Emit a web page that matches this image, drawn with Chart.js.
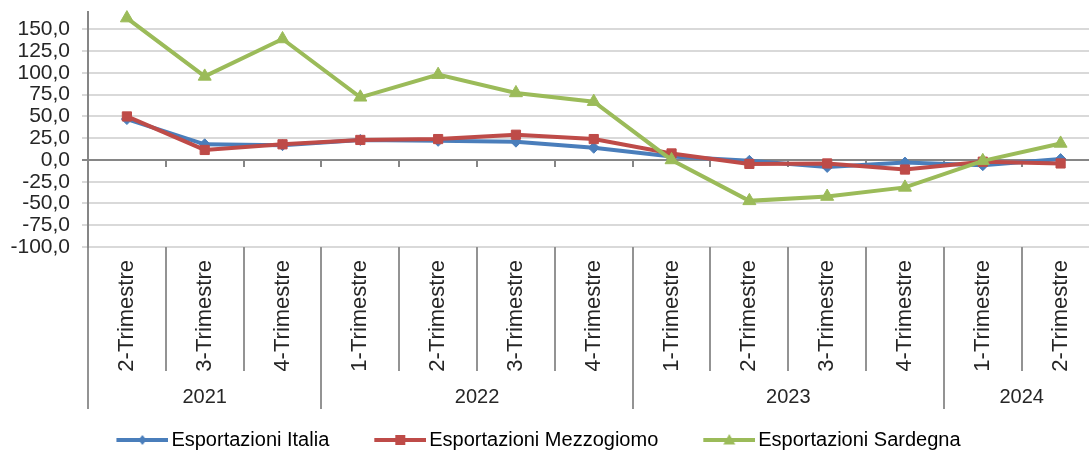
<!DOCTYPE html>
<html>
<head>
<meta charset="utf-8">
<script src="https://cdn.jsdelivr.net/npm/chart.js@4.4.1/dist/chart.umd.min.js"></script>
<style>
html, body { margin: 0; padding: 0; overflow: hidden; background: #ffffff; width: 1089px; height: 453px; }
#wrap { position: absolute; left: 0; top: 0; width: 1108px; height: 460px; }
</style>
</head>
<body>
<div id="wrap"><canvas id="c" width="1108" height="460"></canvas></div>
<script>
// ---- data ----
const quarters = ['2-Trimestre', '3-Trimestre', '4-Trimestre',
  '1-Trimestre', '2-Trimestre', '3-Trimestre', '4-Trimestre',
  '1-Trimestre', '2-Trimestre', '3-Trimestre', '4-Trimestre',
  '1-Trimestre', '2-Trimestre'];
const years = ['2021', '2022', '2023', '2024'];
const yearSpans = [3, 4, 4, 2];
const italia      = [47, 18, 17, 23, 22, 21, 14, 4, -1, -8, -3, -6, 1];
const mezzogiorno = [50, 11.5, 18, 23, 24, 29, 24, 7.5, -4.5, -4, -11, -2, -4];
const sardegna    = [163, 96, 139, 72, 98, 77, 67, 0, -47, -42, -31.5, -1, 19];
const seriesNames = ['Esportazioni Italia', 'Esportazioni Mezzogiomo', 'Esportazioni Sardegna'];
const yMin = -100, yMax = 170, yStep = 25;

// ---- styling ----
const FONT = "'Liberation Sans', Arial, sans-serif";
const colors = ['#4a7ebb', '#be4b48', '#9bbb59'];
const markers = ['rectRot', 'rect', 'triangle'];
const markerRadius = [5.5, 6.5, 7.5];
const axisGray = '#868686';
const sepGray = '#939393';
const gridGray = '#d9d9d9';

// year group boundaries / centres (in category index units)
const yearBounds = [-0.5];
yearSpans.forEach(s => yearBounds.push(yearBounds[yearBounds.length - 1] + s));
const yearCenters = yearSpans.map((s, i) => yearBounds[i] + s / 2);

// legend icons: line with marker
function legendIcon(i) {
  const c = document.createElement('canvas');
  c.width = 94; c.height = 18;
  const g = c.getContext('2d');
  g.strokeStyle = colors[i]; g.fillStyle = colors[i];
  g.lineWidth = 4;
  g.beginPath(); g.moveTo(42, 9); g.lineTo(94, 9); g.stroke();
  const cx = 68, cy = 9;
  g.beginPath();
  if (i === 0) { g.moveTo(cx, cy - 5); g.lineTo(cx + 4, cy); g.lineTo(cx, cy + 5); g.lineTo(cx - 4, cy); }
  else if (i === 1) { g.rect(cx - 5, cy - 5, 10, 10); }
  else { g.moveTo(cx, cy - 6); g.lineTo(cx + 6, cy + 4.5); g.lineTo(cx - 6, cy + 4.5); }
  g.closePath(); g.fill();
  return c;
}
const legendIcons = [0, 1, 2].map(legendIcon);

const seriesData = [italia, mezzogiorno, sardegna];
const datasets = seriesData.map((d, i) => ({
  label: seriesNames[i],
  data: d,
  borderColor: colors[i],
  backgroundColor: colors[i],
  borderWidth: 4,
  pointStyle: markers[i],
  pointRadius: markerRadius[i],
  pointBorderWidth: 1,
  pointBackgroundColor: colors[i],
  pointBorderColor: colors[i],
  tension: 0,
  clip: false,
  order: 3 - i
}));

const noPad = s => { s.paddingTop = 0; s.paddingBottom = 0; s.paddingLeft = 0; s.paddingRight = 0; };

new Chart(document.getElementById('c'), {
  type: 'line',
  data: { labels: quarters, datasets },
  options: {
    responsive: false,
    animation: false,
    devicePixelRatio: 1,
    layout: { padding: { top: 12, left: -65, right: 1, bottom: 0 } },
    plugins: {
      tooltip: { enabled: false },
      legend: {
        position: 'bottom',
        labels: {
          usePointStyle: true,
          pointStyleWidth: 80,
          padding: 10,
          color: '#1a1a1a',
          font: { family: FONT, size: 20 },
          generateLabels: chart => chart.data.datasets.map((ds, i) => ({
            text: ds.label,
            pointStyle: legendIcons[i],
            fillStyle: ds.borderColor,
            strokeStyle: ds.borderColor,
            lineWidth: 0,
            hidden: false,
            datasetIndex: i
          }))
        }
      }
    },
    scales: {
      y: {
        min: yMin, max: yMax,
        bounds: 'data',
        afterFit: s => { s.width = 153; noPad(s); },
        afterBuildTicks: s => { s.ticks = s.ticks.filter(t => t.value % yStep === 0 && t.value <= 150); },
        ticks: {
          stepSize: yStep,
          autoSkip: false,
          includeBounds: false,
          padding: 12,
          color: '#262626',
          font: { family: FONT, size: 21 },
          callback: v => v.toFixed(1).replace('.', ',')
        },
        grid: {
          color: ctx => (ctx.tick && ctx.tick.value === 0) ? axisGray : gridGray,
          lineWidth: 2,
          drawTicks: true,
          tickLength: 6
        },
        border: { color: axisGray, width: 2 }
      },
      x: {
        type: 'category',
        position: 'bottom',
        weight: 1,
        offset: true,
        afterFit: s => { s.height = 124; noPad(s); },
        grid: { offset: true, drawOnChartArea: false, drawTicks: true, tickLength: 124, color: sepGray, lineWidth: 2 },
        border: { display: false },
        ticks: {
          autoSkip: false, minRotation: 90, maxRotation: 90,
          padding: -111,
          color: '#262626',
          font: { family: FONT, size: 22 }
        }
      },
      xYear: {
        type: 'linear',
        axis: 'x',
        position: 'bottom',
        weight: 2,
        min: yearBounds[0], max: yearBounds[yearBounds.length - 1],
        afterFit: s => { s.height = 49; noPad(s); },
        afterBuildTicks: s => {
          s.ticks = yearBounds.concat(yearCenters).sort((a, b) => a - b).map(v => ({ value: v }));
        },
        grid: {
          drawOnChartArea: false, drawTicks: true, tickLength: 38, lineWidth: 2,
          color: ctx => (ctx.tick && yearBounds.includes(ctx.tick.value)) ? sepGray : 'rgba(0,0,0,0)'
        },
        border: { display: false },
        ticks: {
          autoSkip: false, maxRotation: 0, minRotation: 0,
          padding: -24,
          color: '#262626',
          font: { family: FONT, size: 20 },
          callback: v => { const k = yearCenters.indexOf(v); return k >= 0 ? years[k] : ''; }
        }
      },
      xZero: {
        type: 'category',
        axis: 'x',
        labels: quarters,
        position: { y: 0 },
        offset: true,
        afterFit: noPad,
        grid: { offset: true, drawOnChartArea: false, drawTicks: true, tickLength: 6, color: axisGray, lineWidth: 2 },
        border: { color: axisGray, width: 2 },
        ticks: { display: false }
      }
    }
  }
});
</script>
</body>
</html>
